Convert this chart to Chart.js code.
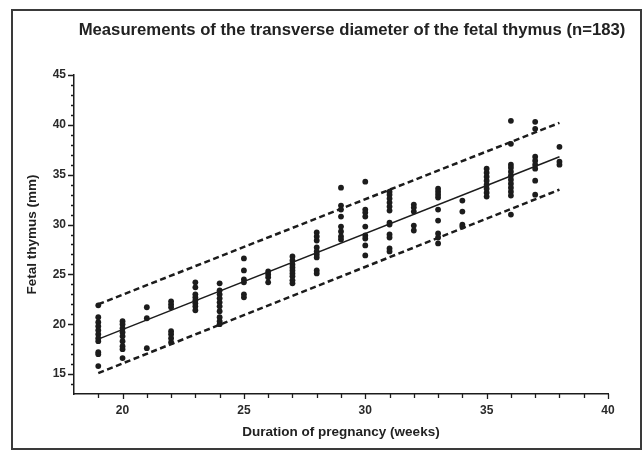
<!DOCTYPE html>
<html>
<head>
<meta charset="utf-8">
<script src="https://cdn.jsdelivr.net/npm/chart.js@4.4.0/dist/chart.umd.min.js"></script>
<style>
  html, body { margin: 0; padding: 0; background: #fff; }
  #wrap { width: 643px; height: 452px; position: relative; }
</style>
</head>
<body>
<div id="wrap"><canvas id="chart-thymus"></canvas></div>
<script>
const weeks = [19, 20, 21, 22, 23, 24, 25, 26, 27, 28, 29, 30, 31, 32, 33, 34, 35, 36, 37, 38];
const thymusByWeek = [
  [21.9, 20.7, 20.2, 19.8, 19.4, 19.0, 18.6, 18.3, 17.2, 17.0, 15.8],
  [20.3, 20.0, 19.6, 19.2, 18.8, 18.3, 17.8, 17.5, 16.6],
  [21.7, 20.6, 17.6],
  [22.3, 22.0, 21.7, 19.3, 19.0, 18.6, 18.2],
  [24.2, 23.7, 23.0, 22.7, 22.4, 22.1, 21.8, 21.4],
  [24.1, 23.4, 23.0, 22.6, 22.2, 21.8, 21.3, 20.7, 20.3, 20.0],
  [26.6, 25.4, 24.5, 24.2, 23.0, 22.7],
  [25.3, 25.0, 24.7, 24.2],
  [26.8, 26.4, 26.0, 25.7, 25.4, 25.1, 24.8, 24.4, 24.1],
  [29.2, 28.8, 28.4, 27.7, 27.3, 27.0, 26.7, 25.4, 25.1],
  [33.7, 31.9, 31.5, 30.8, 29.8, 29.3, 28.8, 28.5],
  [34.3, 31.5, 31.2, 30.8, 29.8, 28.9, 28.6, 27.9, 26.9],
  [33.3, 33.0, 32.6, 32.2, 31.8, 31.4, 30.2, 30.0, 29.0, 28.7, 27.6, 27.3],
  [32.0, 31.7, 31.3, 29.9, 29.4],
  [33.6, 33.3, 33.0, 32.7, 31.5, 30.4, 29.1, 28.7, 28.1],
  [32.4, 31.3, 30.0, 29.8],
  [35.6, 35.2, 34.8, 34.4, 34.0, 33.6, 33.2, 32.8],
  [40.4, 38.1, 36.0, 35.7, 35.3, 34.9, 34.5, 34.1, 33.7, 33.3, 32.9, 31.0],
  [40.3, 39.6, 36.8, 36.4, 36.0, 35.6, 34.4, 33.0],
  [37.8, 36.3, 36.0]
];

// Regression line and prediction band end points
const fitWeeks = [19, 38];
const fitMean  = [18.5, 36.8];
const fitUpper = [22.0, 40.2];
const fitLower = [15.1, 33.5];

const xTickLabels = [20, 25, 30, 35, 40];
const yTickLabels = [15, 20, 25, 30, 35, 40, 45];

const ink = '#1c1c1c';

const points = [];
weeks.forEach((w, i) => {
  thymusByWeek[i].forEach(v => points.push({ x: w, y: v }));
});
const toLine = (ys) => fitWeeks.map((w, i) => ({ x: w, y: ys[i] }));

// frame, title and the little tick marks (major + minor)
const decorPlugin = {
  id: 'decor',
  beforeDraw(chart) {
    const ctx = chart.ctx;
    ctx.save();
    ctx.fillStyle = '#fff';
    ctx.fillRect(0, 0, chart.width, chart.height);
    ctx.strokeStyle = '#3a3a3a';
    ctx.lineWidth = 2;
    ctx.strokeRect(12, 10, 629, 439);
    ctx.fillStyle = '#222';
    ctx.font = 'bold 16.7px "Liberation Sans", Arial, sans-serif';
    ctx.textAlign = 'center';
    ctx.textBaseline = 'alphabetic';
    ctx.fillText('Measurements of the transverse diameter of the fetal thymus (n=183)', 352, 35);
    ctx.restore();
  },
  afterDraw(chart) {
    const { ctx, scales: { x, y } } = chart;
    const area = chart.chartArea;
    ctx.save();
    ctx.strokeStyle = ink;
    ctx.lineWidth = 1.3;
    ctx.beginPath();
    for (let w = x.min + 1; w <= x.max; w++) {
      const px = Math.round(x.getPixelForValue(w)) + 0.5;
      const len = w % 5 === 0 ? 5 : 4;
      ctx.moveTo(px, area.bottom);
      ctx.lineTo(px, area.bottom + len);
    }
    for (let v = y.min + 1; v <= y.max; v++) {
      const py = Math.round(y.getPixelForValue(v)) + 0.5;
      const len = v % 5 === 0 ? 6 : 3;
      ctx.moveTo(area.left, py);
      ctx.lineTo(area.left - len, py);
    }
    ctx.stroke();
    ctx.restore();
  }
};

const ctx = document.getElementById('chart-thymus').getContext('2d');
const tickFont = { family: '"Liberation Sans", Arial, sans-serif', size: 12, weight: 'bold' };
const titleFont = { family: '"Liberation Sans", Arial, sans-serif', size: 13.5, weight: 'bold' };

const thymusChart = new Chart(ctx, {
  type: 'scatter',
  data: {
    datasets: [
      {
        label: 'upper',
        type: 'line',
        data: toLine(fitUpper),
        borderColor: ink,
        borderWidth: 2.5,
        borderDash: [6, 3.5],
        pointRadius: 0,
        fill: false
      },
      {
        label: 'lower',
        type: 'line',
        data: toLine(fitLower),
        borderColor: ink,
        borderWidth: 2.5,
        borderDash: [6, 3.5],
        pointRadius: 0,
        fill: false
      },
      {
        label: 'mean',
        type: 'line',
        data: toLine(fitMean),
        borderColor: ink,
        borderWidth: 1.5,
        pointRadius: 0,
        fill: false
      },
      {
        label: 'thymus',
        data: points,
        backgroundColor: ink,
        borderColor: ink,
        borderWidth: 0,
        pointRadius: 2.9
      }
    ]
  },
  options: {
    responsive: true,
    maintainAspectRatio: false,
    animation: false,
    layout: { padding: { left: 12, top: 75, right: 35, bottom: 10 } },
    plugins: {
      legend: { display: false },
      tooltip: { enabled: false }
    },
    scales: {
      x: {
        type: 'linear',
        min: 18,
        max: 40,
        afterBuildTicks: (s) => { s.ticks = xTickLabels.map(v => ({ value: v })); },
        afterFit: (s) => { s.height = 48; },
        grid: { display: true, drawOnChartArea: false, drawTicks: false },
        border: { display: true, color: ink, width: 1.5 },
        ticks: { color: '#2a2a2a', font: tickFont, padding: 9, maxRotation: 0 },
        title: {
          display: true,
          text: 'Duration of pregnancy (weeks)',
          color: '#222',
          font: titleFont,
          padding: { top: 0, bottom: 2 }
        }
      },
      y: {
        type: 'linear',
        min: 13,
        max: 45,
        afterBuildTicks: (s) => { s.ticks = yTickLabels.map(v => ({ value: v })); },
        afterFit: (s) => { s.width = 62; },
        grid: { display: true, drawOnChartArea: false, drawTicks: false },
        border: { display: true, color: ink, width: 1.5 },
        ticks: { color: '#2a2a2a', font: tickFont, padding: 8 },
        title: {
          display: true,
          text: 'Fetal thymus (mm)',
          color: '#222',
          font: titleFont,
          padding: { top: 12, bottom: 0 }
        }
      }
    }
  },
  plugins: [decorPlugin]
});
</script>
</body>
</html>
